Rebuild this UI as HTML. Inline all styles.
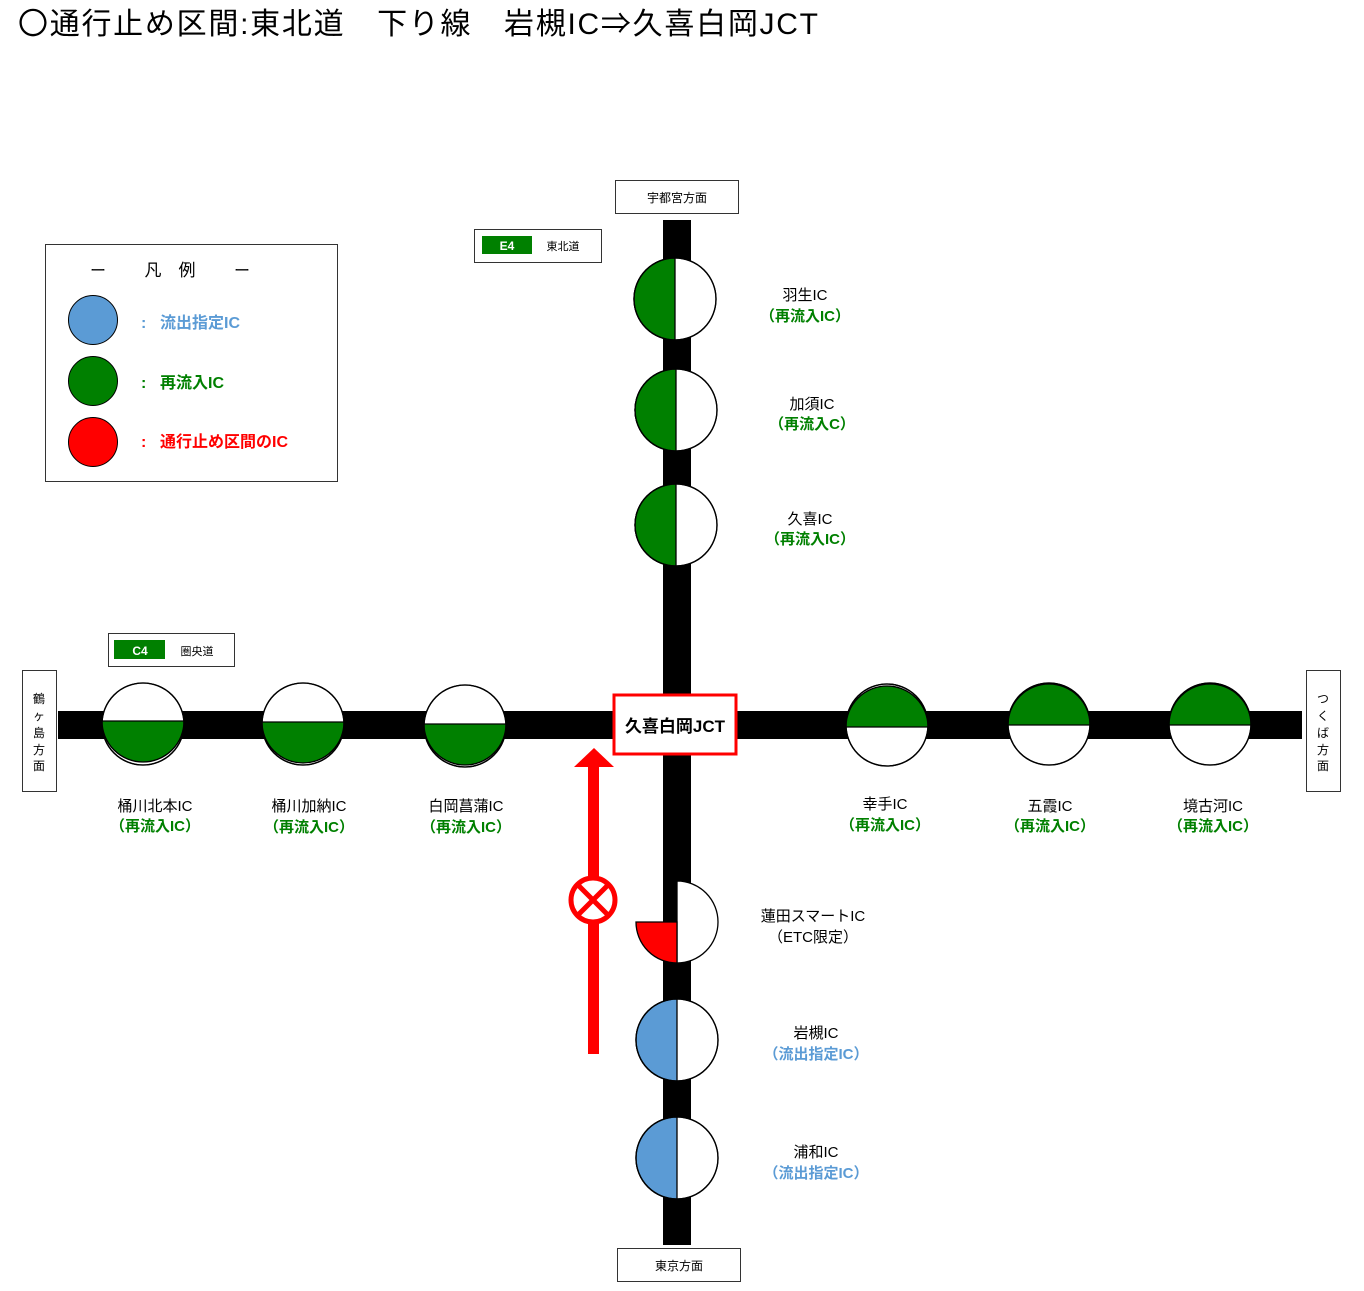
<!DOCTYPE html>
<html><head><meta charset="utf-8"><style>
html,body{margin:0;padding:0;background:#fff;}
svg{display:block;}
text{font-family:"Liberation Sans","Noto Sans CJK JP",sans-serif;}
</style></head><body>
<svg width="1364" height="1291" viewBox="0 0 1364 1291" xmlns="http://www.w3.org/2000/svg">
<text x="18" y="34" font-size="30" fill="#000" textLength="800">〇通行止め区間:東北道　下り線　岩槻IC⇒久喜白岡JCT</text>

<!-- roads -->
<rect x="663" y="220" width="28" height="1025" fill="#000"/>
<rect x="58" y="711" width="1244" height="28" fill="#000"/>

<!-- direction boxes -->
<rect x="615.5" y="180.5" width="123" height="33" fill="#fff" stroke="#333"/>
<text x="677" y="202" font-size="12" text-anchor="middle">宇都宮方面</text>
<rect x="617.5" y="1248.5" width="123" height="33" fill="#fff" stroke="#333"/>
<text x="679" y="1270" font-size="12" text-anchor="middle">東京方面</text>
<rect x="22.5" y="670.5" width="34" height="121" fill="#fff" stroke="#333"/>
<g font-size="12" text-anchor="middle"><text x="39" y="703">鶴</text><text x="39" y="720">ヶ</text><text x="39" y="737">島</text><text x="39" y="754">方</text><text x="39" y="770">面</text></g>
<rect x="1306.5" y="670.5" width="34" height="121" fill="#fff" stroke="#333"/>
<g font-size="12" text-anchor="middle"><text x="1323" y="703">つ</text><text x="1323" y="720">く</text><text x="1323" y="737">ば</text><text x="1323" y="754">方</text><text x="1323" y="770">面</text></g>

<!-- route badges -->
<rect x="474.5" y="229.5" width="127" height="33" fill="#fff" stroke="#333"/>
<rect x="482" y="236" width="50" height="18" fill="#008000"/>
<text x="507" y="250" font-size="12" font-weight="bold" fill="#fff" text-anchor="middle">E4</text>
<text x="563" y="250" font-size="11" text-anchor="middle">東北道</text>
<rect x="108.5" y="633.5" width="126" height="33" fill="#fff" stroke="#333"/>
<rect x="114" y="640" width="51" height="19" fill="#008000"/>
<text x="140" y="655" font-size="12" font-weight="bold" fill="#fff" text-anchor="middle">C4</text>
<text x="197" y="655" font-size="11" text-anchor="middle">圏央道</text>

<!-- legend -->
<rect x="45.5" y="244.5" width="292" height="237" fill="#fff" stroke="#333"/>
<text x="98" y="276" font-size="16" text-anchor="middle">ー</text>
<text x="170" y="276" font-size="17" text-anchor="middle">凡　例</text>
<text x="242" y="276" font-size="16" text-anchor="middle">ー</text>
<circle cx="93" cy="320" r="24.5" fill="#5b9bd5" stroke="#000"/>
<circle cx="93" cy="381" r="24.5" fill="#008000" stroke="#000"/>
<circle cx="93" cy="442" r="24.5" fill="#ff0000" stroke="#000"/>
<g font-size="16" font-weight="bold">
<text x="141" y="328" fill="#5b9bd5">:</text><text x="160" y="328" fill="#5b9bd5">流出指定IC</text>
<text x="141" y="388" fill="#008000">:</text><text x="160" y="388" fill="#008000">再流入IC</text>
<text x="141" y="447" fill="#ff0000">:</text><text x="160" y="447" fill="#ff0000">通行止め区間のIC</text>
</g>

<g stroke="#000" stroke-width="1.3">
<circle cx="675" cy="299" r="41" fill="#fff"/><path d="M675,258 A41,41 0 0 0 675,340 Z" fill="#008000"/><circle cx="675" cy="299" r="41" fill="none"/>
<circle cx="676" cy="410" r="41" fill="#fff"/><path d="M676,369 A41,41 0 0 0 676,451 Z" fill="#008000"/><circle cx="676" cy="410" r="41" fill="none"/>
<circle cx="676" cy="525" r="41" fill="#fff"/><path d="M676,484 A41,41 0 0 0 676,566 Z" fill="#008000"/><circle cx="676" cy="525" r="41" fill="none"/>
<circle cx="677" cy="1040" r="41" fill="#fff"/><path d="M677,999 A41,41 0 0 0 677,1081 Z" fill="#5b9bd5"/><circle cx="677" cy="1040" r="41" fill="none"/>
<circle cx="677" cy="1158" r="41" fill="#fff"/><path d="M677,1117 A41,41 0 0 0 677,1199 Z" fill="#5b9bd5"/><circle cx="677" cy="1158" r="41" fill="none"/>
<path d="M677,881 A41,41 0 0 1 677,963 Z" fill="#fff"/>
<path d="M677,922 L636,922 A41,41 0 0 0 677,963 Z" fill="#ff0000"/>
<circle cx="143" cy="724" r="41" fill="#fff"/><path d="M102,721 A41,41 0 0 0 184,721 Z" fill="#008000"/><circle cx="143" cy="724" r="41" fill="none"/>
<circle cx="303" cy="724" r="41" fill="#fff"/><path d="M262,722 A41,41 0 0 0 344,722 Z" fill="#008000"/><circle cx="303" cy="724" r="41" fill="none"/>
<circle cx="465" cy="726" r="41" fill="#fff"/><path d="M424,724 A41,41 0 0 0 506,724 Z" fill="#008000"/><circle cx="465" cy="726" r="41" fill="none"/>
<circle cx="887" cy="725" r="41" fill="#fff"/><path d="M846,727 A41,41 0 0 1 928,727 Z" fill="#008000"/><circle cx="887" cy="725" r="41" fill="none"/>
<circle cx="1049" cy="724" r="41" fill="#fff"/><path d="M1008,725 A41,41 0 0 1 1090,725 Z" fill="#008000"/><circle cx="1049" cy="724" r="41" fill="none"/>
<circle cx="1210" cy="724" r="41" fill="#fff"/><path d="M1169,725 A41,41 0 0 1 1251,725 Z" fill="#008000"/><circle cx="1210" cy="724" r="41" fill="none"/>
</g>

<rect x="614" y="695" width="122" height="59" fill="#fff" stroke="#ff0000" stroke-width="3"/>
<text x="675" y="732" font-size="17" font-weight="bold" text-anchor="middle">久喜白岡JCT</text>

<rect x="588" y="766" width="11" height="288" fill="#ff0000"/>
<polygon points="594,748 574,767 614,767" fill="#ff0000"/>
<circle cx="593" cy="900" r="22" fill="#fff" stroke="#ff0000" stroke-width="5"/>
<line x1="578" y1="885" x2="608" y2="915" stroke="#ff0000" stroke-width="5"/>
<line x1="608" y1="885" x2="578" y2="915" stroke="#ff0000" stroke-width="5"/>

<g font-size="15" text-anchor="middle">
<text x="805" y="300">羽生IC</text><text x="805" y="321" fill="#008000" font-weight="bold">（再流入IC）</text>
<text x="812" y="409">加須IC</text><text x="812" y="429" fill="#008000" font-weight="bold">（再流入C）</text>
<text x="810" y="524">久喜IC</text><text x="810" y="544" fill="#008000" font-weight="bold">（再流入IC）</text>
<text x="813" y="921">蓮田スマートIC</text><text x="813" y="942">（ETC限定）</text>
<text x="816" y="1038">岩槻IC</text><text x="816" y="1059" fill="#5b9bd5" font-weight="bold">（流出指定IC）</text>
<text x="816" y="1157">浦和IC</text><text x="816" y="1178" fill="#5b9bd5" font-weight="bold">（流出指定IC）</text>
<text x="155" y="811">桶川北本IC</text><text x="155" y="831" fill="#008000" font-weight="bold">（再流入IC）</text>
<text x="309" y="811">桶川加納IC</text><text x="309" y="832" fill="#008000" font-weight="bold">（再流入IC）</text>
<text x="466" y="811">白岡菖蒲IC</text><text x="466" y="832" fill="#008000" font-weight="bold">（再流入IC）</text>
<text x="885" y="809">幸手IC</text><text x="885" y="830" fill="#008000" font-weight="bold">（再流入IC）</text>
<text x="1050" y="811">五霞IC</text><text x="1050" y="831" fill="#008000" font-weight="bold">（再流入IC）</text>
<text x="1213" y="811">境古河IC</text><text x="1213" y="831" fill="#008000" font-weight="bold">（再流入IC）</text>
</g>
</svg>
</body></html>
